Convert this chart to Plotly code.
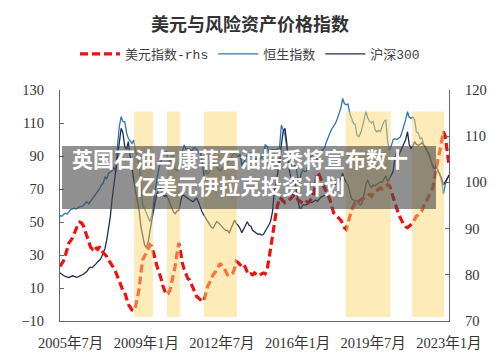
import plotly.graph_objects as go
import pandas as pd

months = pd.date_range("2005-01-01", "2023-01-01", freq="MS")

usd_index = [
    81.8, 82.6, 83.0, 84.2, 85.6, 86.9, 87.4, 88.0, 89.0, 90.1, 90.9, 91.4,
    91.2, 90.6, 89.5, 88.2, 87.2, 86.0, 85.6, 86.2, 85.8, 85.5, 86.1, 85.2,
    84.8, 84.4, 84.0, 83.2, 82.6, 82.2, 81.4, 80.6, 79.6, 78.6, 77.4, 76.6,
    76.2, 75.0, 73.6, 73.0, 72.4, 72.2, 73.2, 75.0, 77.0, 80.5, 83.3, 84.0,
    84.8, 85.8, 86.5, 86.2, 84.6, 82.9, 81.8, 80.5, 79.4, 77.8, 76.6, 75.7,
    75.9, 76.6, 78.2, 80.0, 81.8, 84.5, 86.9, 85.0, 82.5, 81.2, 80.0, 79.2,
    78.9, 78.0, 77.0, 76.0, 75.3, 75.0, 74.6, 74.2, 74.4, 75.8, 77.5, 78.2,
    79.2, 80.0, 80.4, 81.2, 82.0, 82.5, 81.8, 81.6, 80.8, 80.0, 79.8, 80.2,
    80.4, 81.4, 82.9, 82.6, 82.2, 81.8, 82.2, 81.6, 80.6, 80.0, 80.2, 80.0,
    80.4, 80.0, 79.8, 80.0, 80.2, 80.4, 80.2, 81.0, 83.2, 86.0, 88.5, 91.5,
    93.4, 95.2, 96.7, 96.4, 95.9, 95.6, 95.8, 96.1, 96.5, 96.8, 97.4, 97.0,
    96.3, 96.0, 95.9, 95.4, 95.5, 95.8, 95.6, 96.2, 96.6, 97.7, 100.0, 102.1,
    101.6, 100.4, 99.5, 98.8, 98.0, 97.4, 96.2, 94.8, 93.4, 93.0, 92.6, 92.2,
    91.8, 91.0, 90.2, 89.8, 91.2, 92.7, 94.0, 94.8, 95.6, 95.4, 96.0, 96.3,
    96.5, 96.6, 97.0, 97.2, 97.4, 97.0, 97.6, 98.1, 98.3, 98.6, 98.8, 98.6,
    98.8, 99.2, 99.5, 99.3, 98.1, 96.6, 95.2, 94.1, 93.2, 92.4, 91.6, 90.8,
    90.4, 90.2, 90.5, 90.9, 91.2, 92.0, 92.7, 93.0, 93.5, 93.8, 94.8, 96.0,
    96.3, 97.2, 98.0, 98.8, 100.8, 103.2, 105.0, 106.8, 109.0, 111.0, 110.0, 106.8,
    103.8,
]

hang_seng = [
    53.8, 53.5, 54.5, 55.3, 54.8, 56.0, 57.5, 58.0, 58.3, 57.8, 58.6, 59.3,
    59.3, 60.0, 61.3, 62.3, 61.0, 62.5, 64.0, 65.3, 66.5, 68.4, 70.0, 72.4,
    73.5, 77.5, 76.0, 79.5, 80.5, 81.0, 83.5, 80.0, 96.7, 108.0, 113.8, 110.8,
    110.8, 104.0, 100.7, 99.0, 97.6, 99.7, 93.0, 89.0, 85.0, 72.0, 60.0, 58.0,
    55.0, 52.5, 50.2, 54.0, 62.0, 70.0, 77.0, 82.5, 86.5, 90.6, 91.8, 92.6,
    88.0, 86.0, 89.5, 90.0, 82.0, 81.0, 85.5, 88.0, 92.6, 96.7, 94.0, 94.5,
    94.0, 93.0, 94.6, 95.0, 94.2, 92.0, 92.5, 86.5, 77.5, 82.0, 79.0, 80.5,
    84.5, 86.5, 85.0, 83.5, 82.5, 81.0, 82.5, 83.0, 84.5, 86.5, 87.0, 89.0,
    91.0, 92.6, 90.5, 89.6, 91.0, 84.5, 86.0, 87.5, 90.6, 91.0, 92.0, 90.5,
    88.0, 88.6, 86.0, 88.0, 89.6, 90.5, 96.7, 96.0, 92.6, 93.5, 94.0, 93.6,
    93.6, 94.5, 95.0, 108.8, 106.0, 102.7, 96.0, 86.0, 83.0, 87.5, 84.5, 84.0,
    77.5, 74.0, 79.5, 81.5, 80.5, 81.0, 85.5, 89.5, 90.6, 90.0, 89.5, 87.0,
    90.0, 92.5, 94.0, 95.0, 98.5, 101.7, 104.0, 106.5, 108.0, 109.8, 112.5, 115.8,
    119.0, 124.9, 121.8, 121.0, 121.5, 115.8, 113.0, 109.8, 109.0, 102.5, 101.7, 104.0,
    107.8, 112.0, 116.9, 113.0, 111.0, 110.0, 110.9, 106.0, 104.7, 105.5, 104.7, 108.0,
    110.9, 112.0, 98.7, 93.6, 96.0, 99.7, 100.5, 100.0, 100.7, 101.5, 104.7, 108.0,
    112.0, 116.9, 113.5, 112.8, 113.5, 112.0, 104.5, 104.0, 100.5, 101.0, 97.0, 95.5,
    93.0, 91.7, 87.5, 83.0, 82.5, 84.5, 80.5, 79.5, 74.4, 67.0, 72.5, 76.5,
    77.5,
]

csi300 = [
    19.3, 18.2, 17.6, 17.0, 16.6, 16.3, 16.9, 17.4, 17.0, 16.5, 16.8, 17.2,
    17.8, 18.3, 19.2, 20.0, 21.8, 22.6, 22.4, 23.4, 24.6, 26.0, 26.8, 28.5,
    31.0, 34.0, 39.0, 45.0, 53.0, 64.0, 72.0, 80.0, 88.0, 98.0, 106.8, 104.0,
    95.6, 94.0, 98.7, 90.0, 82.5, 74.0, 68.4, 63.0, 56.5, 47.0, 41.0, 36.0,
    34.5, 38.0, 44.5, 51.0, 58.0, 63.0, 67.5, 69.5, 70.4, 67.0, 65.5, 66.0,
    64.4, 61.0, 59.0, 56.2, 55.0, 56.5, 57.0, 62.0, 66.4, 66.0, 65.0, 64.4,
    63.5, 62.8, 62.3, 63.5, 64.4, 62.0, 58.3, 56.0, 54.0, 52.2, 50.5, 48.0,
    47.0, 46.2, 48.0, 50.2, 49.6, 48.5, 47.0, 45.8, 44.8, 45.0, 43.2, 46.0,
    49.0, 51.2, 49.0, 48.0, 46.2, 43.5, 45.5, 48.5, 50.2, 48.0, 47.5, 45.0,
    44.1, 43.5, 42.6, 42.8, 42.1, 42.4, 44.1, 46.0, 48.2, 50.5, 56.0, 68.0,
    74.5, 81.0, 86.0, 96.7, 104.7, 106.8, 98.0, 84.5, 78.0, 76.5, 74.0, 72.0,
    64.0, 58.5, 58.3, 60.5, 60.2, 60.5, 61.3, 62.2, 61.8, 62.6, 63.3, 62.5,
    64.0, 65.3, 65.5, 66.4, 66.0, 67.4, 69.0, 70.0, 71.0, 72.4, 74.5, 74.0,
    77.5, 79.5, 76.0, 74.4, 72.5, 68.0, 64.0, 63.3, 62.5, 63.0, 61.0, 60.3,
    62.0, 67.4, 73.0, 75.5, 72.4, 71.0, 72.4, 72.0, 73.0, 73.6, 74.4, 74.0,
    76.0, 78.0, 74.5, 76.5, 78.0, 80.5, 88.0, 92.6, 90.0, 92.5, 95.0, 96.7,
    100.0, 104.7, 97.0, 94.6, 96.0, 98.7, 97.0, 96.5, 97.0, 98.0, 96.5, 95.0,
    92.6, 90.5, 87.5, 84.5, 82.0, 83.5, 80.5, 78.5, 76.5, 72.4, 74.5, 76.0,
    78.5,
]

shade_start = ["2008-06-05", "2009-12-15", "2011-09-01", "2018-03-25", "2021-04-20"]
shade_end = ["2009-04-20", "2010-07-20", "2013-03-10", "2020-04-20", "2022-10-10"]

tick_dates = ["2005-07-01", "2009-01-01", "2012-07-01", "2016-01-01", "2019-07-01", "2023-01-01"]
tick_labels = ["2005年7月", "2009年1月", "2012年7月", "2016年1月", "2019年7月", "2023年1月"]

title_text = "美元与风险资产价格指数"
banner_lines = ["英国石油与康菲石油据悉将宣布数十", "亿美元伊拉克投资计划"]

serif = "Liberation Serif, 'Noto Sans CJK SC', serif"
mono = "Liberation Mono, 'Noto Sans CJK SC', monospace"
cjk = "'Noto Sans CJK SC', sans-serif"

fig = go.Figure()
fig.add_trace(go.Scatter(x=months, y=hang_seng, name="恒生指数", mode="lines",
                         line=dict(color="#2E75B6", width=1.3), legendrank=2))
fig.add_trace(go.Scatter(x=months, y=csi300, name="沪深300", mode="lines",
                         line=dict(color="#1F2A55", width=1.3), legendrank=3))
fig.add_trace(go.Scatter(x=months, y=usd_index, name="美元指数-rhs", mode="lines", yaxis="y2",
                         line=dict(color="#F01010", width=3.2, dash="8px,4px"), legendrank=1))

for s, e in zip(shade_start, shade_end):
    fig.add_shape(type="rect", xref="x", yref="y", x0=s, x1=e, y0=-7.5, y1=117,
                  fillcolor="rgba(251,215,115,0.5)", line=dict(width=0), layer="above")

# overlay banner
fig.add_shape(type="rect", xref="paper", yref="paper",
              x0=(62 - 60) / 389, x1=(436 - 60) / 389,
              y0=(321 - 209) / 231, y1=(321 - 146) / 231,
              fillcolor="rgba(70,70,70,0.6)", line=dict(width=0), layer="above")
fig.add_annotation(xref="paper", yref="paper", x=(240 - 60) / 389, y=(321 - 171) / 231,
                   text="<br>".join(banner_lines), showarrow=False,
                   font=dict(family=cjk, size=21, color="white", weight="bold"),
                   align="center", xanchor="center", yanchor="middle")

fig.update_layout(
    width=500, height=355,
    margin=dict(l=60, r=51, t=90, b=34, autoexpand=False),
    paper_bgcolor="white", plot_bgcolor="white",
    title=dict(text=title_text, x=0.5, xref="container", xanchor="center",
               y=1 - 25 / 355, yanchor="middle",
               font=dict(family=cjk, size=18, color="#333333", weight="bold")),
    legend=dict(orientation="h", x=0.5, xref="container", xanchor="center",
                y=1 - 54 / 355, yref="container", yanchor="middle",
                font=dict(family=mono, size=13, color="#404040"),
                bgcolor="rgba(0,0,0,0)", itemwidth=40),
    showlegend=True,
    xaxis=dict(type="date", range=["2005-01-01", "2023-01-03"], automargin=False,
               tickvals=tick_dates, ticktext=tick_labels, ticks="",
               showgrid=False, showline=True, linecolor="#666666", linewidth=1,
               ticklabelstandoff=9,
               tickfont=dict(family=serif, size=14.5, color="#333333"), zeroline=False),
    yaxis=dict(range=[-10, 130], dtick=20, tick0=-10, ticks="inside", ticklen=4,
               tickcolor="#666666", showgrid=False, showline=True, linecolor="#666666",
               linewidth=1, zeroline=False, ticklabelstandoff=12, automargin=False,
               tickfont=dict(family=serif, size=14.5, color="#333333")),
    yaxis2=dict(range=[70, 120], dtick=10, overlaying="y", side="right",
                ticks="inside", ticklen=4, tickcolor="#666666", showgrid=False,
                showline=True, linecolor="#666666", linewidth=1, zeroline=False,
                ticklabelstandoff=12, automargin=False,
                tickfont=dict(family=serif, size=14.5, color="#333333")),
)

fig.write_html("out.html")
